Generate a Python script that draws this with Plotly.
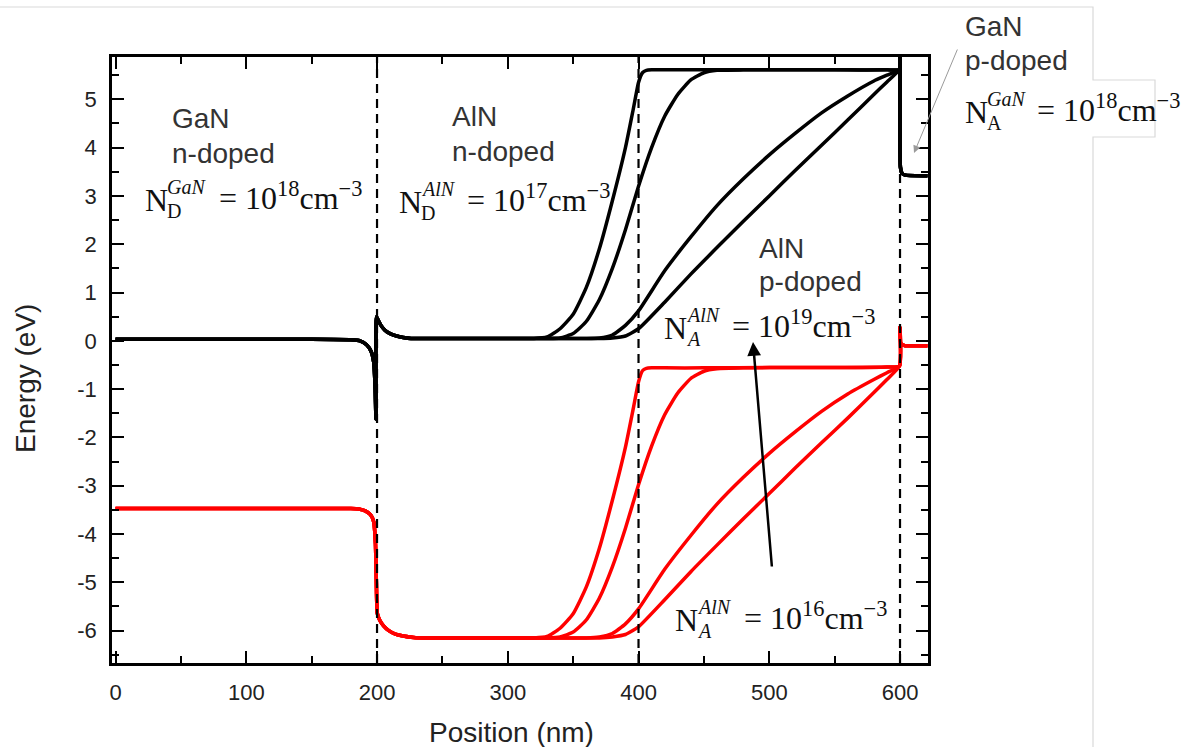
import plotly.graph_objects as go

# ------------------------------------------------------------------
# DATA
# ------------------------------------------------------------------
# Conduction band (black) – GaN n-doped region, interface spike, flat n-AlN
ec_left_x = [0, 50, 100, 150, 180, 187, 192, 195.5, 197.5, 198.6, 199.2, 199.6,
             201, 203, 206, 210, 215, 220, 226, 240, 270, 300]
ec_left_y = [0.03, 0.03, 0.03, 0.03, 0.02, 0.0, -0.08, -0.22, -0.45, -1.0, -1.62, 0.5,
             0.42, 0.32, 0.22, 0.15, 0.1, 0.07, 0.05, 0.05, 0.05, 0.05]
# Valence band (red) – same regions
ev_left_x = [0, 50, 100, 150, 180, 186, 191, 195, 197.5, 198.8, 199.5, 200.2,
             202, 205, 209, 214, 220, 228, 240, 270, 300]
ev_left_y = [-3.47, -3.47, -3.47, -3.47, -3.47, -3.48, -3.52, -3.6, -3.75, -4.2, -5.0, -5.64,
             -5.78, -5.9, -6.0, -6.07, -6.11, -6.14, -6.15, -6.15, -6.15]

# AlN p-doped part, one curve per acceptor concentration
doping = ["1e19", "1e18", "1e17", "1e16"]
ec_mid_x = {
    "1e19": [320, 330, 340, 350, 360, 370, 380, 390, 396, 400, 403, 406, 410, 420, 450, 500, 550, 590],
    "1e18": [330, 340, 350, 360, 370, 380, 390, 400, 410, 420, 430, 440, 450, 460, 480, 520, 560, 590],
    "1e17": [340, 360, 370, 380, 390, 400, 420, 440, 460, 480, 500, 520, 540, 560, 580, 590],
    "1e16": [340, 370, 380, 390, 400, 420, 440, 460, 480, 500, 520, 540, 560, 580, 590],
}
ec_mid_y = {
    "1e19": [0.05, 0.08, 0.25, 0.55, 1.1, 1.9, 2.9, 4.0, 4.8, 5.35, 5.55, 5.6, 5.61, 5.61, 5.61, 5.61, 5.61, 5.61],
    "1e18": [0.05, 0.06, 0.15, 0.4, 0.85, 1.5, 2.3, 3.2, 4.0, 4.65, 5.1, 5.4, 5.55, 5.6, 5.61, 5.61, 5.61, 5.61],
    "1e17": [0.05, 0.05, 0.06, 0.12, 0.32, 0.62, 1.45, 2.15, 2.8, 3.35, 3.85, 4.3, 4.72, 5.07, 5.38, 5.5],
    "1e16": [0.05, 0.05, 0.06, 0.1, 0.25, 0.8, 1.38, 1.93, 2.47, 3.0, 3.53, 4.05, 4.57, 5.1, 5.36],
}
ev_mid_x = ec_mid_x
ev_mid_y = {
    "1e19": [-6.15, -6.12, -5.95, -5.65, -5.1, -4.3, -3.3, -2.2, -1.4, -0.85, -0.62, -0.57, -0.56, -0.56, -0.56, -0.55, -0.55, -0.54],
    "1e18": [-6.15, -6.13, -6.03, -5.78, -5.33, -4.68, -3.88, -2.98, -2.18, -1.53, -1.08, -0.78, -0.63, -0.58, -0.56, -0.55, -0.55, -0.54],
    "1e17": [-6.15, -6.15, -6.13, -6.06, -5.86, -5.55, -4.73, -4.03, -3.38, -2.83, -2.33, -1.88, -1.46, -1.1, -0.8, -0.66],
    "1e16": [-6.15, -6.15, -6.13, -6.08, -5.92, -5.36, -4.78, -4.23, -3.69, -3.16, -2.63, -2.11, -1.6, -1.07, -0.8],
}

# GaN p-doped region (all curves merge here)
ec_right_x = [599.6, 600.0, 600.3, 601.5, 604, 621]
ec_right_y = [5.62, 5.9, 3.6, 3.47, 3.43, 3.42]
ev_right_x = [599.6, 600.0, 600.4, 601.5, 604, 621]
ev_right_y = [-0.52, 0.28, -0.03, -0.08, -0.1, -0.1]

interfaces = [200, 400, 600]
x_ticks = [0, 100, 200, 300, 400, 500, 600]
y_ticks = [-6, -5, -4, -3, -2, -1, 0, 1, 2, 3, 4, 5]
y_tick_text = ["-6", "-5", "-4", "-3", "-2", "-1", "0", "1", "2", "3", "4", "5"]

# ------------------------------------------------------------------
W, H = 1189, 747
PL, PR, PT, PB = 112, 928, 57, 663          # plot area in pixels

fig = go.Figure()

for d in doping:
    fig.add_trace(go.Scatter(
        x=ec_left_x + ec_mid_x[d] + ec_right_x,
        y=ec_left_y + ec_mid_y[d] + ec_right_y,
        mode="lines", line=dict(color="#000000", width=3.5, shape="spline", smoothing=0.5),
        showlegend=False, hoverinfo="skip"))
    fig.add_trace(go.Scatter(
        x=ev_left_x + ev_mid_x[d] + ev_right_x,
        y=ev_left_y + ev_mid_y[d] + ev_right_y,
        mode="lines", line=dict(color="#ff0000", width=3.5, shape="spline", smoothing=0.5),
        showlegend=False, hoverinfo="skip"))

for xi in interfaces:
    fig.add_shape(type="line", xref="x", yref="paper", x0=xi, x1=xi, y0=0, y1=1,
                  line=dict(color="#000000", width=2.2, dash="9px,6px"), layer="above")


def P(px, py):
    return (px - PL) / (PR - PL), (PB - py) / (PB - PT)


SANS = "Liberation Sans, Arial, sans-serif"
SERIF = "Liberation Serif, Times New Roman, serif"
TXT = "#333333"
MATH = "#111111"
annotations = []


def text(px, py, s, size=28, family=SANS, color=TXT, xanchor="left", **kw):
    x, y = P(px, py)
    annotations.append(dict(x=x, y=y, xref="paper", yref="paper", text=s, showarrow=False,
                            xanchor=xanchor, yanchor="middle",
                            font=dict(family=family, size=size, color=color), **kw))


def math_label(left, base, sup, sub, power, rest_px):
    # base = baseline pixel of the big "N"
    text(left, base - 10.5, "N", size=32, family=SERIF, color=MATH)
    text(left + 22, base - 23, sup, size=20, family=SERIF, color=MATH)
    text(left + 22, base + 1, sub, size=20, family=SERIF, color=MATH)
    text(left + rest_px, base - 14, "= 10<sup>%s</sup>cm<sup>\u22123</sup>" % power,
         size=32, family=SERIF, color=MATH)


text(170, 118, "GaN")
text(170, 153, "n-doped")
math_label(143, 210, "<i>GaN</i>", "D", "18", 74)

text(450, 117, "AlN")
text(450, 151, "n-doped")
math_label(397, 212, "<i>AlN</i>", "D", "17", 68)

text(757, 248, "AlN")
text(757, 281, "p-doped")
math_label(662, 338, "<i>AlN</i>", "<i>A</i>", "19", 68)
math_label(673, 630, "<i>AlN</i>", "<i>A</i>", "16", 69)

text(963, 26, "GaN")
text(963, 61, "p-doped")
math_label(963, 122, "<i>GaN</i>", "A", "18", 72)

# axis titles
text(511, 732, "Position (nm)", size=28, xanchor="center", color="#222222")
tx, ty = P(25, 379)
annotations.append(dict(x=tx, y=ty, xref="paper", yref="paper", text="Energy (eV)", showarrow=False,
                        textangle=-90, xanchor="center", yanchor="middle",
                        font=dict(family=SANS, size=28, color="#222222")))

# arrows
hx, hy = P(753, 342)
annotations.append(dict(x=hx, y=hy, xref="paper", yref="paper", text="", showarrow=True,
                        ax=772 - 753, ay=568 - 342, arrowhead=2, arrowsize=1.1, arrowwidth=2.5,
                        arrowcolor="#000000"))
hx, hy = P(914, 153)
annotations.append(dict(x=hx, y=hy, xref="paper", yref="paper", text="", showarrow=True,
                        ax=958 - 914, ay=48 - 153, arrowhead=2, arrowsize=1.5, arrowwidth=1,
                        arrowcolor="#9a9a9a"))

# slide border (screenshot frame)
pts = [(0, 7), (1093, 7), (1093, 80), (1155, 80), (1155, 137), (1093, 137), (1093, 747)]
path = "M " + " L ".join("%.5f,%.5f" % P(a, b) for a, b in pts)
fig.add_shape(type="path", xref="paper", yref="paper", path=path,
              line=dict(color="#d9d9d9", width=1.2), layer="below")

axis_common = dict(showline=True, linecolor="#000000", linewidth=2.5, mirror="ticks",
                   ticks="inside", ticklen=12, tickwidth=2, tickcolor="#000000",
                   showgrid=False, zeroline=False,
                   tickfont=dict(family=SANS, size=22, color="#222222"))

fig.update_layout(
    width=W, height=H, autosize=False,
    margin=dict(l=PL, r=W - PR, t=PT, b=H - PB),
    paper_bgcolor="white", plot_bgcolor="white",
    annotations=annotations,
    xaxis=dict(range=[-2.7, 621.4], tickvals=x_ticks, ticktext=[str(v) for v in x_ticks],
               minor=dict(ticks="inside", ticklen=7, tickwidth=2, dtick=50, tick0=0,
                          tickcolor="#000000"),
               ticklabelstandoff=8, **axis_common),
    yaxis=dict(range=[-6.67, 5.876], tickvals=y_ticks, ticktext=y_tick_text,
               minor=dict(ticks="inside", ticklen=7, tickwidth=2, dtick=0.5, tick0=0,
                          tickcolor="#000000"),
               ticklabelstandoff=8, **axis_common),
)

fig.write_html("out.html", config={"displayModeBar": False},
               post_script="document.body.style.margin='0px';document.body.style.overflow='hidden';")
